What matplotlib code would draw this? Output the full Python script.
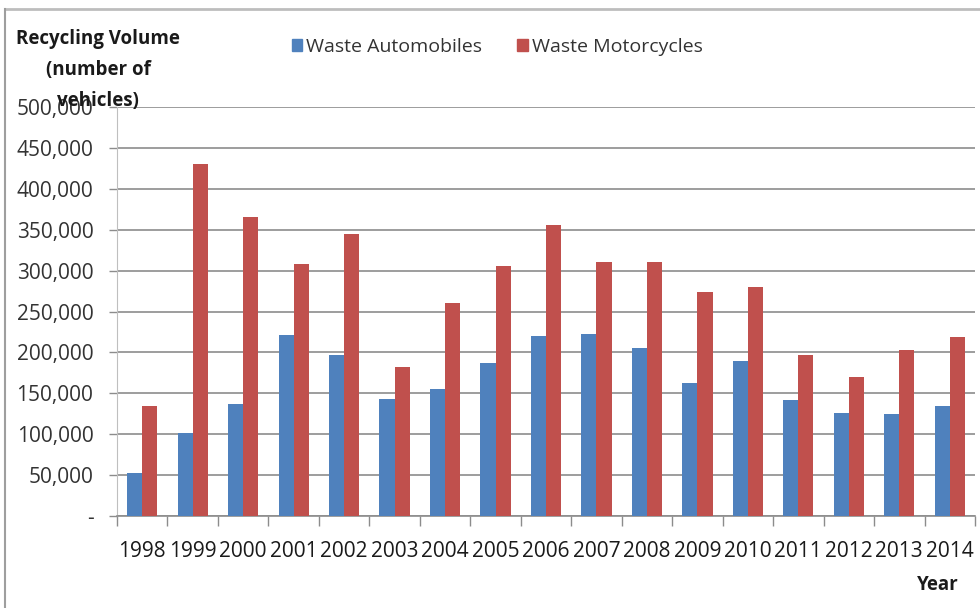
import numpy as np
import matplotlib.pyplot as plt
from matplotlib.lines import Line2D
from matplotlib.patches import Patch
from matplotlib.ticker import FuncFormatter

plt.rcParams['font.family'] = ['Open Sans', 'DejaVu Sans']

# data
years = ['1998', '1999', '2000', '2001', '2002', '2003', '2004', '2005', '2006',
         '2007', '2008', '2009', '2010', '2011', '2012', '2013', '2014']
automobiles = [52700, 102000, 137000, 221000, 197000, 142500, 155000, 186600, 220000,
               223000, 205800, 163000, 189500, 141300, 126200, 125000, 134700]
motorcycles = [134700, 430800, 365500, 307900, 344600, 182500, 260000, 305800, 355700,
               310000, 310000, 274400, 279700, 196400, 169500, 203300, 219300]

blue = '#4F81BD'
red = '#C0504D'

fig = plt.figure(figsize=(9.8, 6.08), dpi=100)
ax = fig.add_axes([117 / 980, 1 - 516 / 608, (975 - 117) / 980, (516 - 107) / 608])

x = np.arange(len(years))
w = 0.3
ax.bar(x - w / 2, automobiles, w, color=blue, zorder=3)
ax.bar(x + w / 2, motorcycles, w, color=red, zorder=3)

ax.set_xlim(-0.5, len(years) - 0.5)
ax.set_ylim(0, 500000)
ax.set_yticks(np.arange(0, 500001, 50000))
ax.yaxis.set_major_formatter(FuncFormatter(lambda v, p: '-' if v == 0 else f'{int(v):,}'))
ax.grid(axis='y', color='#8C8C8C', linewidth=1.2, zorder=0)

ax.set_xticks(x)
ax.set_xticklabels(years)
ax.set_xticks(np.arange(-0.5, len(years)), minor=True)
ax.tick_params(axis='x', which='major', length=0, pad=18, labelsize=15, colors='#1a1a1a')
ax.tick_params(axis='x', which='minor', length=7, color='#8C8C8C', width=1)
ax.tick_params(axis='y', length=6, color='#8C8C8C', width=1, pad=11, labelsize=15,
               labelcolor='#333333')

for s in ['top', 'right']:
    ax.spines[s].set_visible(False)
ax.spines['left'].set_color('#BFBFBF')
ax.spines['bottom'].set_color('#8C8C8C')
ax.spines['bottom'].set_linewidth(1.2)

# title at upper left
fig.text(98 / 980, 1 - 70 / 608, 'Recycling Volume\n(number of\nvehicles)', ha='center',
         va='center', fontsize=13.5, fontweight='bold', linespacing=1.75, color='#1a1a1a')
fig.text(938 / 980, 1 - 585 / 608, 'Year', ha='center', va='center', fontsize=13.5,
         fontweight='bold', color='#1a1a1a')

handles = [Patch(color=blue, label='Waste Automobiles'),
           Patch(color=red, label='Waste Motorcycles')]
fig.legend(handles=handles, loc='center left', bbox_to_anchor=(282 / 980, 1 - 47 / 608),
           ncol=2, frameon=False, fontsize=14, handlelength=0.55, handleheight=0.55,
           handletextpad=0.2, columnspacing=1.8, borderpad=0, labelcolor='#333333')

# outer frame of the picture
fig.add_artist(Line2D([5 / 980, 1], [1 - 9 / 608, 1 - 9 / 608], transform=fig.transFigure,
                      color='#BDBDBD', linewidth=2))
fig.add_artist(Line2D([5 / 980, 5 / 980], [0, 1 - 9 / 608], transform=fig.transFigure,
                      color='#9E9E9E', linewidth=1.5))

fig.savefig('out.png', dpi=100)
